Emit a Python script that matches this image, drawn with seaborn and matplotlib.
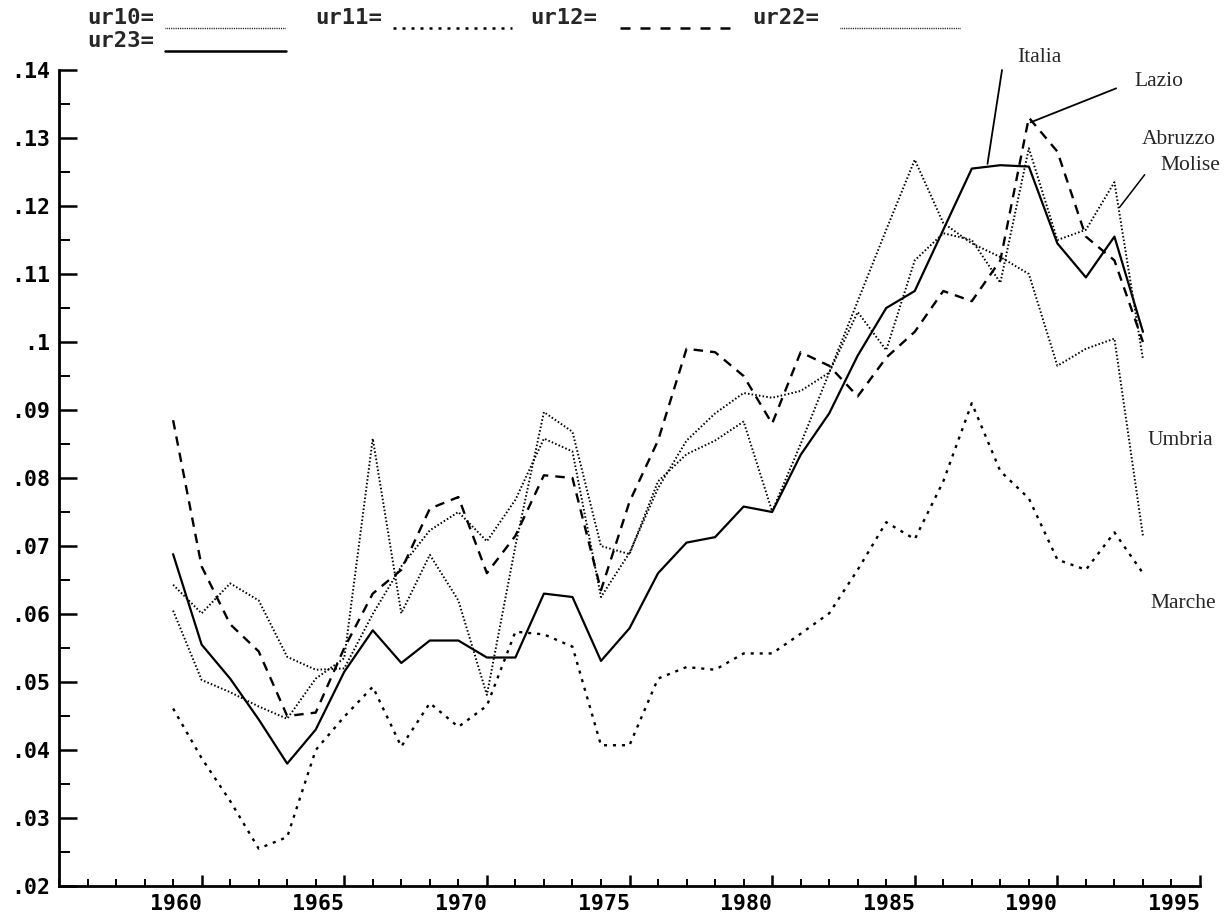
import numpy as np
import pandas as pd
import seaborn as sns
import matplotlib.pyplot as plt
from matplotlib.lines import Line2D

# unemployment rates, 1959-1993
years = list(range(1959, 1994))
italia = [.0688, .0555, .0505, .0445, .0380, .0430, .0515, .0576, .0528, .0561,
          .0561, .0536, .0536, .0630, .0625, .0531, .0579, .0660, .0705, .0713,
          .0758, .0750, .0834, .0895, .0980, .1050, .1075, .1165, .1255, .1260,
          .1258, .1145, .1095, .1155, .1015]
lazio = [.0885, .0670, .0585, .0545, .0450, .0455, .0550, .0630, .0665, .0755,
         .0772, .0660, .0715, .0804, .0800, .0635, .0765, .0855, .0990, .0985,
         .0950, .0880, .0985, .0965, .0920, .0977, .1015, .1075, .1060, .1120,
         .1330, .1280, .1155, .1120, .1000]
umbria = [.0605, .0503, .0485, .0464, .0446, .0505, .0535, .0858, .0601, .0687,
          .0620, .0481, .0700, .0897, .0868, .0700, .0688, .0795, .0835, .0855,
          .0883, .0751, .0850, .0955, .1060, .1165, .1268, .1175, .1145, .1125,
          .1100, .0965, .0990, .1005, .0715]
abruzzo = [.0643, .0601, .0645, .0620, .0537, .0518, .0520, .0600, .0670, .0723,
           .0750, .0707, .0768, .0858, .0839, .0625, .0690, .0785, .0855, .0895,
           .0925, .0918, .0928, .0955, .1044, .0988, .1120, .1160, .1150, .1087,
           .1285, .1150, .1165, .1235, .0975]
marche = [.0461, .0388, .0325, .0255, .0272, .0400, .0449, .0493, .0405, .0469,
          .0434, .0465, .0574, .0570, .0552, .0407, .0407, .0505, .0522, .0518,
          .0542, .0542, .0571, .0601, .0665, .0735, .0710, .0795, .0910, .0810,
          .0770, .0680, .0665, .0720, .0660]

x_ticks = list(range(1960, 1996, 5))
x_labels = [str(y) for y in x_ticks]
y_ticks = [.02, .03, .04, .05, .06, .07, .08, .09, .10, .11, .12, .13, .14]
y_labels = ['.02', '.03', '.04', '.05', '.06', '.07', '.08', '.09', '.1',
            '.11', '.12', '.13', '.14']

legend_names = ['ur10=', 'ur11=', 'ur12=', 'ur22=', 'ur23=']

df = pd.DataFrame({
    'year': years * 5,
    'rate': italia + lazio + umbria + abruzzo + marche,
    'region': (['Italia'] * 35 + ['Lazio'] * 35 + ['Umbria'] * 35
               + ['Abruzzo Molise'] * 35 + ['Marche'] * 35),
})

fine_dot = dict(linestyle=(0, (0.8, 1.1)), linewidth=1.4)
styles = {
    'Italia': dict(linestyle='-', linewidth=1.6),
    'Lazio': dict(linestyle=(0, (4, 3)), linewidth=1.7),
    'Umbria': fine_dot,
    'Abruzzo Molise': fine_dot,
    'Marche': dict(linestyle=(0, (1.3, 2.5)), linewidth=1.7),
}

sns.set_style('white')
plt.rcParams['font.family'] = ['DejaVu Sans Mono']

W, H = 1224, 921
fig = plt.figure(figsize=(W / 100, H / 100), dpi=100)
ax = fig.add_axes([59 / W, 1 - 886 / H, (1200 - 59) / W, (886 - 70) / H])

for region, st in styles.items():
    sns.lineplot(data=df[df['region'] == region], x='year', y='rate',
                 color='black', ax=ax, legend=False, **st)

ax.set_xlim(1955, 1995)
ax.set_ylim(.02, .14)
ax.set_xlabel('')
ax.set_ylabel('')
for s in ['top', 'right']:
    ax.spines[s].set_visible(False)
for s in ['left', 'bottom']:
    ax.spines[s].set_linewidth(2)
    ax.spines[s].set_color('black')

ax.set_xticks(x_ticks)
ax.set_xticks(range(1955, 1996), minor=True)
ax.set_xticklabels(x_labels, fontsize=15.5, fontweight='bold', ha='right')
ax.set_yticks(y_ticks)
ax.set_yticks(np.arange(.02, .1401, .005), minor=True)
ax.set_yticklabels(y_labels, fontsize=15.5, fontweight='bold')
ax.tick_params(which='both', bottom=True, left=True, colors='black')
ax.tick_params(axis='x', which='major', direction='in', length=8, width=1.8, pad=6)
ax.tick_params(axis='x', which='minor', direction='in', length=5, width=1.4)
ax.tick_params(axis='y', which='major', direction='in', length=13, width=1.8, pad=6)
ax.tick_params(axis='y', which='minor', direction='in', length=8, width=1.4)

# region labels with leader lines
serif = ['Liberation Serif', 'DejaVu Serif']
lab = dict(fontsize=15.5, family=serif, ha='center', va='center', clip_on=False)
ax.text(1989.35, .1418, 'Italia', **lab)
ax.text(1993.55, .1383, 'Lazio', **lab)
ax.text(1994.25, .1298, 'Abruzzo', **lab)
ax.text(1994.65, .1259, 'Molise', **lab)
ax.text(1994.3, .0855, 'Umbria', **lab)
ax.text(1994.4, .0615, 'Marche', **lab)
ax.plot([1988.06, 1987.55], [.1400, .1262], color='black', lw=1.3, clip_on=False)
ax.plot([1992.06, 1989.06], [.1373, .1323], color='black', lw=1.3)
ax.plot([1993.06, 1992.18], [.1246, .1198], color='black', lw=1.1)

# legend strip at the top, drawn as text plus sample lines
def fx(px):
    return px / W

def fy(py):
    return 1 - py / H

legend_text = [(87, 24), (315, 24), (530, 24), (752, 24), (87, 47)]
legend_lines = [(165, 286, 28), (393, 512, 28), (620, 730, 28), (840, 960, 28),
                (165, 286, 51)]
legend_styles = [
    dict(linestyle=(0, (0.6, 0.7)), linewidth=1.0),
    dict(linestyle=(0, (1.2, 2.4)), linewidth=1.8),
    dict(linestyle=(0, (4, 4)), linewidth=1.8),
    dict(linestyle=(0, (0.6, 0.7)), linewidth=1.0),
    dict(linestyle='-', linewidth=1.8),
]
for name, (px, py), (x0, x1, ly), st in zip(legend_names, legend_text,
                                            legend_lines, legend_styles):
    fig.text(fx(px), fy(py), name, fontsize=16, fontweight='bold',
             ha='left', va='baseline')
    fig.add_artist(Line2D([fx(x0), fx(x1)], [fy(ly), fy(ly)],
                          color='black', transform=fig.transFigure, **st))

fig.savefig('out.png', dpi=100, facecolor='white')
